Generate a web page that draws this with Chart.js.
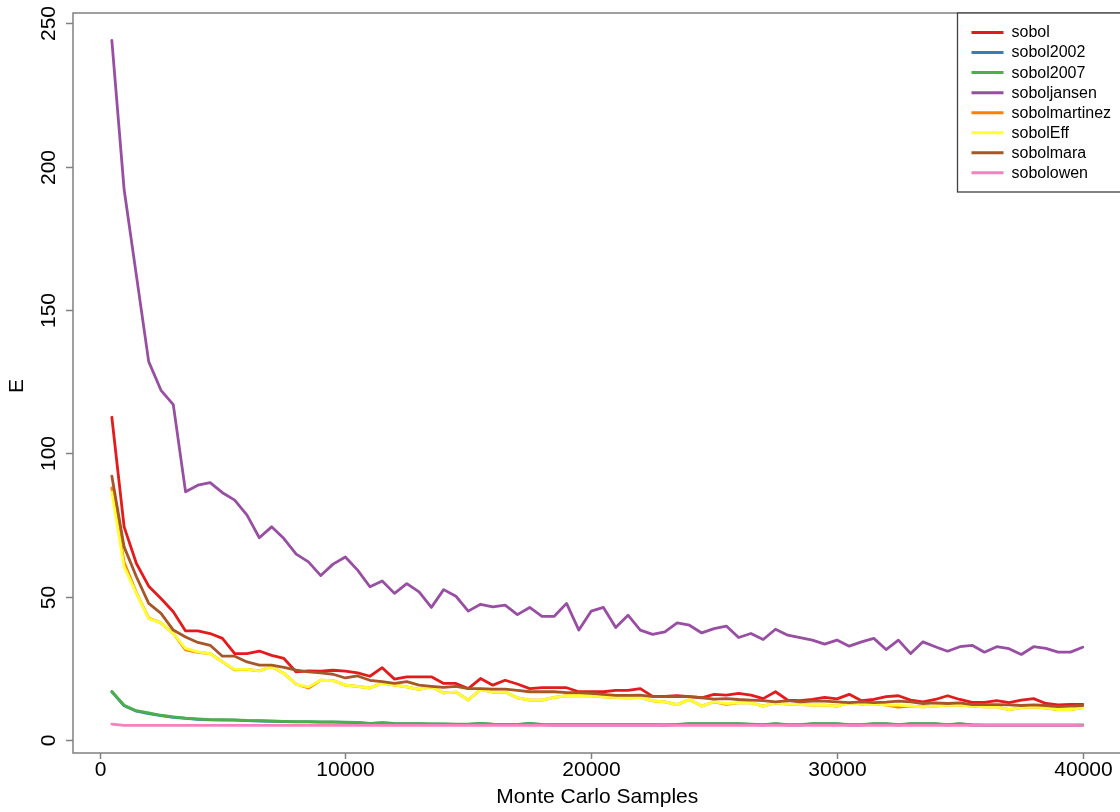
<!DOCTYPE html>
<html>
<head>
<meta charset="utf-8">
<title>Monte Carlo convergence of Sobol estimators</title>
<script src="https://cdn.jsdelivr.net/npm/chart.js@4/dist/chart.umd.min.js"></script>
<style>
  html, body { margin: 0; padding: 0; background: #ffffff; overflow: hidden; }
  #wrap { position: relative; width: 1120px; height: 812px; }
</style>
</head>
<body>
<div id="wrap"><canvas id="chart" width="1120" height="812"></canvas></div>
<script>
// Number of Monte Carlo samples used for each estimate
const samples = [
  500, 1000, 1500, 2000, 2500, 3000, 3500, 4000, 4500, 5000,
  5500, 6000, 6500, 7000, 7500, 8000, 8500, 9000, 9500, 10000,
  10500, 11000, 11500, 12000, 12500, 13000, 13500, 14000, 14500, 15000,
  15500, 16000, 16500, 17000, 17500, 18000, 18500, 19000, 19500, 20000,
  20500, 21000, 21500, 22000, 22500, 23000, 23500, 24000, 24500, 25000,
  25500, 26000, 26500, 27000, 27500, 28000, 28500, 29000, 29500, 30000,
  30500, 31000, 31500, 32000, 32500, 33000, 33500, 34000, 34500, 35000,
  35500, 36000, 36500, 37000, 37500, 38000, 38500, 39000, 39500, 40000
];

// Error E of each estimator
const sobol = [
  112.6, 74.4, 61.6, 53.7, 49.4, 44.8, 38.1, 38.1, 37.2, 35.5,
  30.2, 30.2, 31.1, 29.6, 28.5, 23.8, 24.2, 24.1, 24.4, 24.1,
  23.5, 22.3, 25.3, 21.3, 22.1, 22.1, 22.1, 19.8, 19.8, 18.0,
  21.5, 19.2, 20.9, 19.6, 18.0, 18.3, 18.3, 18.3, 16.9, 16.9,
  16.9, 17.4, 17.4, 18.0, 15.3, 15.3, 15.5, 15.2, 14.8, 16.0,
  15.7, 16.3, 15.7, 14.5, 16.9, 14.0, 13.8, 14.2, 14.9, 14.4,
  16.0, 13.8, 14.2, 15.2, 15.5, 14.0, 13.4, 14.2, 15.5, 14.2,
  13.2, 13.2, 13.8, 13.1, 14.0, 14.5, 12.8, 12.3, 12.5, 12.5
];
const sobol2002 = [
  16.9, 12.0, 10.1, 9.3, 8.6, 8.0, 7.6, 7.3, 7.1, 7.0,
  7.0, 6.8, 6.7, 6.6, 6.5, 6.4, 6.4, 6.3, 6.3, 6.2,
  6.1, 5.8, 6.0, 5.8, 5.7, 5.7, 5.6, 5.6, 5.5, 5.5,
  5.8, 5.5, 5.4, 5.4, 5.8, 5.4, 5.3, 5.3, 5.3, 5.3,
  5.3, 5.3, 5.3, 5.3, 5.3, 5.3, 5.4, 5.7, 5.7, 5.7,
  5.7, 5.7, 5.5, 5.3, 5.7, 5.3, 5.3, 5.7, 5.7, 5.7,
  5.3, 5.3, 5.7, 5.7, 5.3, 5.7, 5.7, 5.7, 5.3, 5.7,
  5.3, 5.2, 5.2, 5.2, 5.2, 5.2, 5.2, 5.2, 5.2, 5.2
];
const sobol2007 = [
  17.0, 12.2, 10.3, 9.5, 8.7, 8.1, 7.7, 7.4, 7.2, 7.2,
  7.1, 6.9, 6.8, 6.7, 6.6, 6.5, 6.5, 6.4, 6.4, 6.3,
  6.2, 5.9, 6.1, 5.9, 5.8, 5.8, 5.7, 5.7, 5.6, 5.6,
  5.9, 5.6, 5.5, 5.5, 5.9, 5.5, 5.4, 5.4, 5.4, 5.4,
  5.4, 5.4, 5.4, 5.4, 5.4, 5.3, 5.5, 5.8, 5.8, 5.8,
  5.8, 5.8, 5.6, 5.4, 5.8, 5.4, 5.4, 5.8, 5.8, 5.8,
  5.4, 5.4, 5.8, 5.8, 5.4, 5.8, 5.8, 5.8, 5.4, 5.8,
  5.3, 5.3, 5.3, 5.3, 5.3, 5.3, 5.3, 5.3, 5.3, 5.3
];
const soboljansen = [
  244.0, 192.0, 162.0, 132.0, 122.0, 117.0, 86.6, 88.9, 89.8, 86.3,
  83.7, 78.5, 70.6, 74.4, 70.3, 64.9, 62.2, 57.4, 61.4, 63.9,
  59.3, 53.5, 55.5, 51.2, 54.6, 51.7, 46.3, 52.5, 50.2, 45.0,
  47.4, 46.5, 47.1, 43.8, 46.3, 43.2, 43.2, 47.7, 38.4, 45.0,
  46.3, 39.3, 43.6, 38.4, 36.9, 37.8, 40.9, 40.1, 37.4, 38.9,
  39.8, 35.8, 37.2, 35.1, 38.7, 36.6, 35.8, 34.9, 33.5, 34.9,
  32.8, 34.3, 35.5, 31.6, 34.9, 30.2, 34.3, 32.6, 31.0, 32.6,
  33.1, 30.7, 32.6, 31.9, 29.9, 32.6, 32.0, 30.7, 30.7, 32.4
];
const sobolmartinez = [
  88.0, 62.0, 51.4, 42.6, 40.9, 37.2, 31.5, 30.6, 30.2, 27.3,
  24.5, 24.7, 24.2, 25.6, 23.3, 19.5, 18.2, 20.9, 20.8, 19.2,
  18.8, 18.2, 19.9, 19.2, 18.6, 17.7, 18.6, 16.5, 16.8, 14.0,
  17.7, 16.8, 16.8, 14.8, 14.0, 14.0, 14.9, 15.5, 15.5, 15.5,
  15.1, 14.9, 14.8, 14.9, 13.7, 13.4, 12.4, 14.2, 11.9, 13.4,
  12.5, 13.0, 13.0, 11.9, 13.0, 12.6, 12.4, 12.2, 12.2, 11.9,
  13.0, 12.6, 12.8, 12.2, 11.5, 11.9, 11.6, 11.9, 12.2, 12.2,
  11.9, 11.6, 11.6, 10.7, 11.4, 11.6, 11.2, 10.7, 10.7, 11.4
];
const sobolEff = [
  86.5, 60.5, 51.2, 42.4, 40.9, 37.2, 32.0, 30.8, 30.2, 27.3,
  24.7, 24.7, 24.2, 25.6, 23.3, 19.5, 18.6, 20.9, 20.8, 19.2,
  18.8, 18.2, 19.9, 19.2, 18.6, 17.7, 18.6, 16.5, 16.8, 14.0,
  17.7, 16.8, 16.8, 14.8, 14.0, 14.0, 14.9, 15.5, 15.5, 15.5,
  15.1, 14.9, 14.8, 14.9, 13.7, 13.4, 12.4, 14.2, 11.9, 13.4,
  12.8, 13.0, 13.0, 11.9, 13.0, 12.6, 12.4, 12.2, 12.2, 11.9,
  13.0, 12.6, 12.8, 12.2, 12.2, 11.9, 11.6, 11.9, 12.2, 12.2,
  11.9, 11.6, 11.6, 10.7, 11.4, 11.6, 11.2, 10.7, 10.7, 11.4
];
const sobolmara = [
  92.1, 67.4, 57.0, 47.7, 44.2, 38.4, 36.0, 34.1, 33.1, 29.3,
  29.3, 27.3, 26.2, 26.2, 25.4, 24.4, 23.8, 23.5, 23.0, 21.7,
  22.4, 20.9, 20.4, 19.8, 20.4, 19.2, 18.8, 18.4, 18.8, 18.0,
  18.0, 17.8, 17.8, 17.4, 16.9, 16.9, 16.9, 16.6, 16.6, 16.3,
  16.0, 15.6, 15.6, 15.7, 15.2, 15.2, 15.2, 15.2, 14.8, 14.3,
  14.5, 14.2, 14.0, 13.8, 13.4, 13.8, 13.4, 13.6, 13.6, 13.4,
  13.1, 13.4, 13.1, 13.3, 13.6, 13.4, 12.8, 13.0, 12.8, 13.0,
  12.4, 12.4, 12.4, 12.3, 12.1, 12.3, 12.1, 11.7, 11.9, 12.1
];
const sobolowen = [
  5.6, 5.2, 5.2, 5.2, 5.2, 5.2, 5.2, 5.2, 5.2, 5.2,
  5.2, 5.2, 5.2, 5.2, 5.2, 5.2, 5.2, 5.2, 5.2, 5.2,
  5.2, 5.2, 5.2, 5.2, 5.2, 5.2, 5.2, 5.2, 5.2, 5.2,
  5.2, 5.2, 5.2, 5.2, 5.2, 5.2, 5.2, 5.2, 5.2, 5.2,
  5.2, 5.2, 5.2, 5.2, 5.2, 5.2, 5.2, 5.2, 5.2, 5.2,
  5.2, 5.2, 5.2, 5.2, 5.2, 5.2, 5.2, 5.2, 5.2, 5.2,
  5.2, 5.2, 5.2, 5.2, 5.2, 5.2, 5.2, 5.2, 5.2, 5.2,
  5.2, 5.2, 5.2, 5.2, 5.2, 5.2, 5.2, 5.2, 5.2, 5.1
];

const seriesNames = ['sobol', 'sobol2002', 'sobol2007', 'soboljansen', 'sobolmartinez', 'sobolEff', 'sobolmara', 'sobolowen'];
const seriesValues = [sobol, sobol2002, sobol2007, soboljansen, sobolmartinez, sobolEff, sobolmara, sobolowen];
const seriesColors = ['#E41A1C', '#377EB8', '#4DAF4A', '#984EA3', '#FF7F00', '#FFFF33', '#A65628', '#F781BF'];

const xTickValues = [0, 10000, 20000, 30000, 40000];
const yTickValues = [0, 50, 100, 150, 200, 250];
const xTitle = 'Monte Carlo Samples';
const yTitle = 'E';

const FONT = '"Liberation Sans", Arial, sans-serif';
const FRAME = '#808080';

// Axis box, ticks, rotated y labels, titles and the boxed legend
const framePlugin = {
  id: 'frame',
  afterDraw(chart) {
    const ctx = chart.ctx;
    const a = chart.chartArea;
    const xs = chart.scales.x, ys = chart.scales.y;
    ctx.save();

    // plot box (right side lies just past the canvas edge)
    ctx.strokeStyle = FRAME;
    ctx.lineWidth = 1.5;
    ctx.beginPath();
    ctx.moveTo(a.right + 2, a.top);
    ctx.lineTo(a.left, a.top);
    ctx.lineTo(a.left, a.bottom);
    ctx.lineTo(a.right + 2, a.bottom);
    ctx.stroke();

    // x ticks
    ctx.fillStyle = '#000';
    ctx.font = '21px ' + FONT;
    ctx.textAlign = 'center';
    ctx.textBaseline = 'middle';
    xTickValues.forEach(v => {
      const px = Math.round(xs.getPixelForValue(v)) + 0.5;
      ctx.beginPath();
      ctx.moveTo(px, a.bottom);
      ctx.lineTo(px, a.bottom + 6);
      ctx.stroke();
      ctx.fillText(String(v), px, a.bottom + 17);
    });

    // y ticks, labels turned to read upward
    yTickValues.forEach(v => {
      const py = Math.round(ys.getPixelForValue(v)) + 0.5;
      ctx.beginPath();
      ctx.moveTo(a.left, py);
      ctx.lineTo(a.left - 7, py);
      ctx.stroke();
      ctx.save();
      ctx.translate(49, py);
      ctx.rotate(-Math.PI / 2);
      ctx.fillText(String(v), 0, 0);
      ctx.restore();
    });

    // axis titles
    ctx.fillText(xTitle, (a.left + xs.getPixelForValue(41580)) / 2, 797);
    ctx.save();
    ctx.translate(17.5, (a.top + a.bottom) / 2 + 3);
    ctx.rotate(-Math.PI / 2);
    ctx.fillText(yTitle, 0, 0);
    ctx.restore();

    // legend
    const lx = 957.5, ly = a.top;
    ctx.fillStyle = '#fff';
    ctx.fillRect(lx, ly, 200, 179);
    ctx.strokeStyle = '#404040';
    ctx.lineWidth = 1.3;
    ctx.strokeRect(lx, ly, 200, 179);
    ctx.font = '16px ' + FONT;
    ctx.textAlign = 'left';
    ctx.fillStyle = '#000';
    chart.data.datasets.forEach((ds, i) => {
      const yy = 32.5 + i * 20.05;
      ctx.strokeStyle = ds.borderColor;
      ctx.lineWidth = 3;
      ctx.beginPath();
      ctx.moveTo(971.5, yy);
      ctx.lineTo(1003.5, yy);
      ctx.stroke();
      ctx.fillText(ds.label, 1011.5, yy + 0.5);
    });
    ctx.restore();
  }
};

const datasets = seriesNames.map((name, i) => ({
  label: name,
  data: samples.map((s, k) => ({ x: s, y: seriesValues[i][k] })),
  borderColor: seriesColors[i],
  backgroundColor: seriesColors[i],
  borderWidth: 2.8,
  pointRadius: 0,
  tension: 0,
  fill: false,
  borderJoinStyle: 'round',
  borderCapStyle: 'round',
  // later series are painted over earlier ones
  order: seriesNames.length - i
}));

new Chart(document.getElementById('chart'), {
  type: 'line',
  data: { datasets },
  options: {
    responsive: false,
    animation: false,
    events: [],
    layout: { padding: { top: 13, left: 0, right: 0, bottom: 0 } },
    plugins: { legend: { display: false }, tooltip: { enabled: false } },
    scales: {
      x: {
        type: 'linear',
        min: -1080,
        max: 41516,
        grid: { display: false },
        border: { display: false },
        ticks: { display: false },
        afterFit(s) { s.height = 59; }
      },
      y: {
        type: 'linear',
        min: -4.46,
        max: 253.56,
        grid: { display: false },
        border: { display: false },
        ticks: { display: false },
        afterFit(s) { s.width = 73; }
      }
    }
  },
  plugins: [framePlugin]
});
</script>
</body>
</html>
